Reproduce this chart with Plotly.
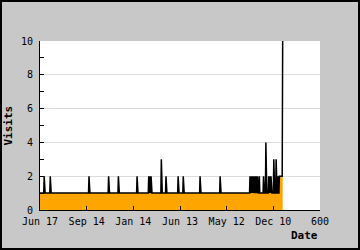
import plotly.graph_objects as go

# ---- data ----
n_days = 521                 # days 0..520 plotted
baseline_visits = 1          # visits on ordinary days
spike_days = [9, 22, 105, 147, 168, 208, 233, 235, 238, 260, 270, 296, 307, 343, 386,
              450, 453, 455, 457, 460, 463, 466, 470, 479, 484, 490, 493, 495, 501,
              506, 510, 513, 514, 515, 516, 517, 518, 519, 520]
spike_visits = [2, 2, 2, 2, 2, 2, 2, 2, 2, 3, 2, 2, 2, 2, 2,
                2, 2, 2, 2, 2, 2, 2, 2, 2, 4, 2, 2, 2, 3,
                3, 2, 2, 2, 2, 2, 2, 2, 2, 10]
x_tickvals = [0, 100, 200, 300, 400, 500, 600]
x_ticktext = ["Jun 17", "Sep 14", "Jan 14", "Jun 13", "May 12", "Dec 10", "600"]
y_tickvals = [0, 2, 4, 6, 8, 10]

days = list(range(n_days))
visits = [baseline_visits] * n_days
for d, v in zip(spike_days, spike_visits):
    visits[d] = v

FONT = "DejaVu Sans Mono"
W, H = 360, 250
ML, MR, MT, MB = 40, 40, 41, 40
PW, PH = W - ML - MR, H - MT - MB

fig = go.Figure()
fig.add_trace(go.Scatter(
    x=days, y=visits, mode="lines",
    line=dict(color="black", width=1.5),
    fill="tozeroy", fillcolor="#ffa500",
    hoverinfo="skip", showlegend=False,
))

fig.update_layout(
    width=W, height=H,
    margin=dict(l=ML, r=MR, t=MT, b=MB, pad=0),
    paper_bgcolor="#c8c8c8", plot_bgcolor="white",
    font=dict(family=FONT, size=10, color="black"),
    xaxis=dict(
        range=[0, 600], tickvals=x_tickvals, ticktext=x_ticktext,
        ticks="inside", ticklen=4, tickcolor="black", tickwidth=1,
        showline=True, linecolor="black", linewidth=1,
        showgrid=False, zeroline=False, fixedrange=True,
        tickfont=dict(family=FONT, size=10, color="black"),
        ticklabelstandoff=2,
    ),
    yaxis=dict(
        range=[0, 10], tickvals=y_tickvals,
        ticks="inside", ticklen=4, tickcolor="black", tickwidth=1,
        minor=dict(dtick=1, ticks="inside", ticklen=4, tickcolor="black", showgrid=False),
        showline=True, linecolor="black", linewidth=1,
        showgrid=True, gridcolor="#dcdcdc", gridwidth=1,
        zeroline=False, fixedrange=True,
        tickfont=dict(family=FONT, size=10, color="black"),
        ticklabelstandoff=4,
    ),
    annotations=[
        dict(text="<b>Visits</b>", xref="paper", yref="paper",
             x=-32 / PW, y=0.5, xanchor="center", yanchor="middle",
             textangle=-90, showarrow=False,
             font=dict(family=FONT, size=11, color="black")),
        dict(text="<b>Date</b>", xref="paper", yref="paper",
             x=1.0, y=-26 / PH, xanchor="right", yanchor="middle",
             showarrow=False,
             font=dict(family=FONT, size=11, color="black")),
    ],
    shapes=[
        dict(type="rect", xref="paper", yref="paper",
             x0=(-ML + 1) / PW, x1=1 + (MR - 1) / PW,
             y0=(-MB + 1) / PH, y1=1 + (MT - 1) / PH,
             line=dict(color="black", width=2), fillcolor="rgba(0,0,0,0)",
             layer="below"),
    ],
)

fig.write_html("out.html", config={"displayModeBar": False},
               default_width="360px", default_height="250px")
